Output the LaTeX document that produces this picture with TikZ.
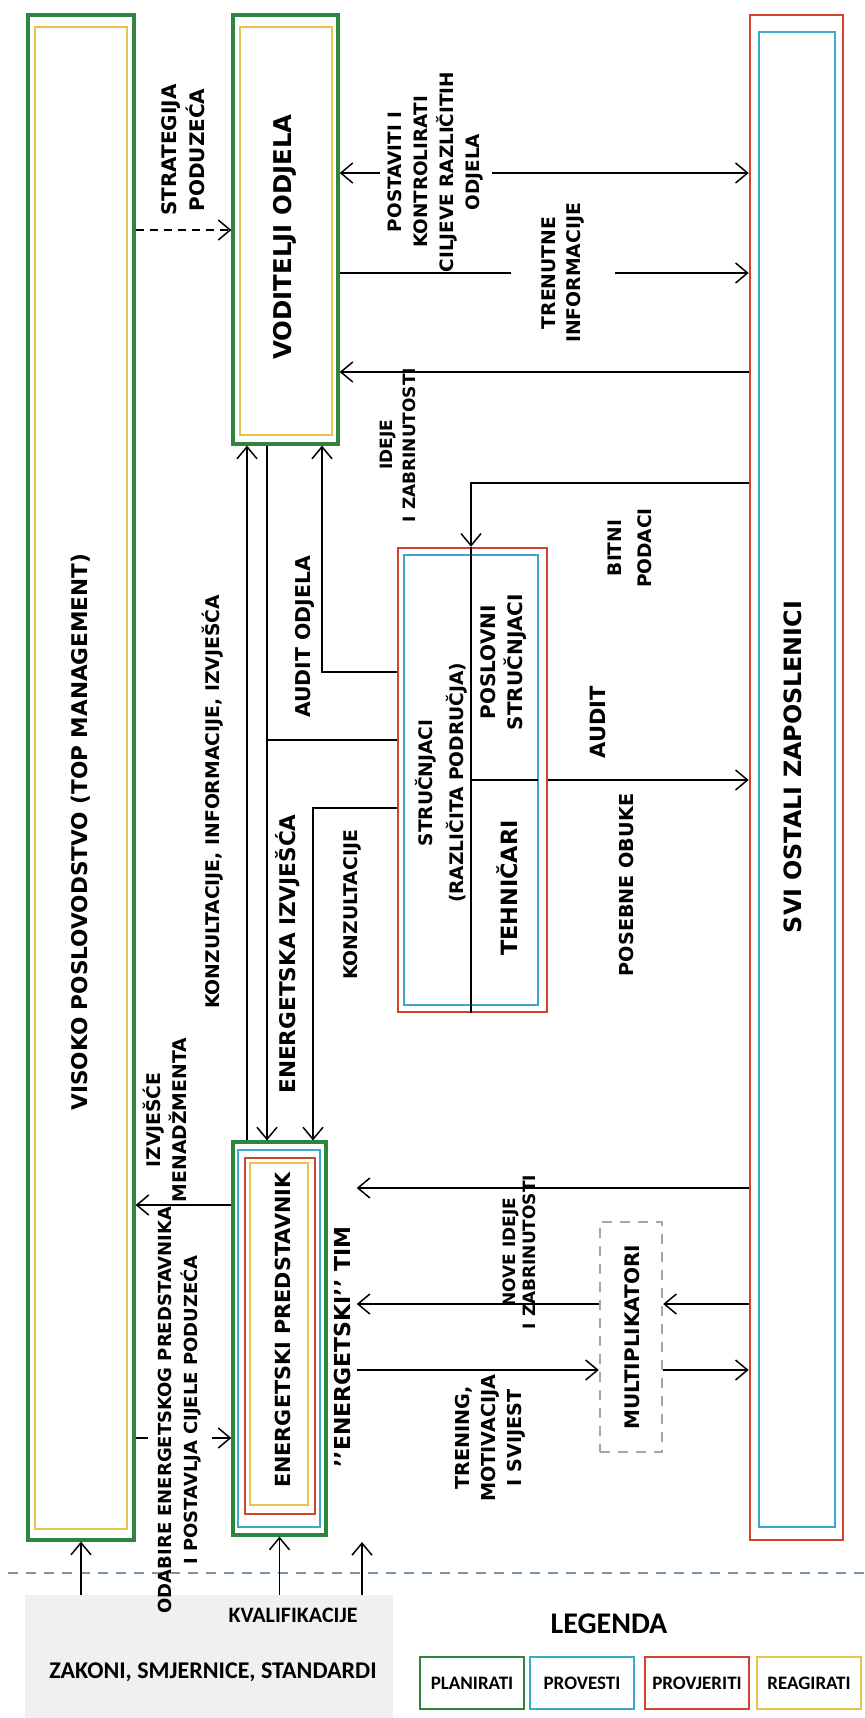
\documentclass[tikz,border=0pt]{standalone}
\usepackage{fontspec}
\setmainfont{DejaVu Sans}
\newfontfamily\legendfont{Carlito}
\usepackage{xcolor}
\usepackage{tikz}
\usetikzlibrary{arrows.meta,fit,calc}

\definecolor{plangreen}{RGB}{46,133,62}
\definecolor{docyan}{RGB}{62,168,200}
\definecolor{checkred}{RGB}{208,66,46}
\definecolor{actyellow}{RGB}{232,196,78}
\definecolor{multigray}{RGB}{165,165,165}
\definecolor{splitblue}{RGB}{115,150,172}
\definecolor{lawgray}{RGB}{239,240,242}

\newcommand{\lblfont}[2]{\bfseries\fontsize{#1}{#2}\selectfont}

\tikzset{
    grnframe/.style={draw=plangreen, line width=1.6pt, inner sep=0pt},
    redframe/.style={draw=checkred, line width=1.3pt, inner sep=0pt},
    cyanframe/.style={draw=docyan, line width=1.2pt},
    ylwframe/.style={draw=actyellow, line width=1.1pt},
    lbl/.style 2 args={rotate=90, align=center, font=\lblfont{#1}{#2}},
    conn/.style={line width=0.75pt},
    arr/.style={conn, ->},
    legbox/.style={line width=1.4pt, minimum width=52pt, minimum height=26pt, font=\legendfont\bfseries\fontsize{9.5}{11}\selectfont}
}

\begin{document}
\begin{tikzpicture}[x=0.5pt, y=-0.5pt, >={Straight Barb[length=6pt,width=10pt]}]
    \useasboundingbox (0,0) rectangle (864,1718);
    \fill[white] (0,0) rectangle (864,1718);

    % Laws, standards
    \node[fill=lawgray, inner sep=0pt, fit={(25,1595) (393,1718)}] (zakoni) {};
    \node[font=\legendfont\bfseries\fontsize{12}{14}\selectfont] (zaktxt) at (213,1672) {ZAKONI, SMJERNICE, STANDARDI};
    \node[font=\legendfont\bfseries\fontsize{11}{13}\selectfont] (kval) at (293,1615) {KVALIFIKACIJE};
    \draw[splitblue, line width=1.2pt, dash pattern=on 5pt off 4pt] (8,1573) -- (864,1573);

    % Top management
    \node[grnframe, fit={(28,15) (134,1540)}] (topmgmt) {};
    \draw[ylwframe] (35,27) rectangle (127,1529);
    \node[lbl={10.8}{13}] (toptxt) at (81,832) {VISOKO POSLOVODSTVO (TOP MANAGEMENT)};

    % Department heads
    \node[grnframe, fit={(233,15) (338,444)}] (vodit) {};
    \draw[ylwframe] (240,27) rectangle (332,435);
    \node[lbl={12.2}{15}] (vodtxt) at (285,237) {VODITELJI ODJELA};

    % All other employees
    \node[redframe, fit={(750,15) (843,1540)}] (svi) {};
    \draw[cyanframe] (759,32) rectangle (835,1527);
    \node[lbl={11.9}{15}] (svitxt) at (793,767) {SVI OSTALI ZAPOSLENICI};

    % Experts
    \node[redframe, fit={(398,548) (547,1012)}] (struc) {};
    \draw[cyanframe] (404,555) rectangle (538,1005);
    \draw[conn] (struc.north -| 471,0) -- (struc.south -| 471,0);
    \draw[conn] (471,780) -- (538,780);
    \node[lbl={9.3}{15.5}] (structxt) at (441,783) {STRUČNJACI\\(RAZLIČITA PODRUČJA)};
    \node[lbl={10}{13.5}] (poslovni) at (504,662) {POSLOVNI\\STRUČNJACI};
    \node[lbl={11.2}{13}] (tehn) at (507,888) {TEHNIČARI};

    % Energy representative
    \node[grnframe, fit={(233,1142) (326,1535)}] (energ) {};
    \draw[cyanframe] (238,1150) rectangle (320,1527);
    \draw[redframe] (245,1158) rectangle (315,1514);
    \draw[ylwframe] (250,1163) rectangle (308,1505);
    \node[lbl={10.4}{13}] (energtxt) at (283,1330) {ENERGETSKI PREDSTAVNIK};
    \node[lbl={11}{13}, inner ysep=3pt] (tim) at (342,1347) {'{}'ENERGETSKI'{}' TIM};

    % Multipliers
    \node[draw=multigray, line width=1.2pt, dash pattern=on 5pt off 4pt, inner sep=0pt, fit={(600,1222) (662,1452)}] (multi) {};
    \node[lbl={10}{13}] (multitxt) at (632,1337) {MULTIPLIKATORI};

    % Top management - department heads
    \draw[arr, dash pattern=on 4pt off 3pt] (topmgmt.east |- 0,230) -- (vodit.west |- 0,230);
    \node[lbl={10}{14}] (strat) at (183,150) {STRATEGIJA\\PODUZEĆA};

    % Department heads - employees
    \node[lbl={9.2}{13}, inner sep=4pt] (ciljevi) at (436,172) {POSTAVITI I\\KONTROLIRATI\\CILJEVE RAZLIČITIH\\ODJELA};
    \draw[arr] (ciljevi.north |- 0,173) -- (vodit.east |- 0,173);
    \draw[arr] (ciljevi.south |- 0,173) -- (svi.west |- 0,173);
    \node[lbl={9.4}{12.5}, inner xsep=4pt, inner ysep=15pt] (trenut) at (563,273) {TRENUTNE\\INFORMACIJE};
    \draw[conn] (vodit.east |- 0,273) -- (trenut.north |- 0,273);
    \draw[arr] (trenut.south |- 0,273) -- (svi.west |- 0,273);
    \draw[arr] (svi.west |- 0,372) -- (vodit.east |- 0,372);
    \node[lbl={8.5}{11.5}] (ideje) at (398,445) {IDEJE\\I ZABRINUTOSTI};

    % Employees - experts
    \draw[arr] (svi.west |- 0,483) -| (struc.north -| 471,0);
    \node[lbl={9.3}{15}] (bitni) at (630,548) {BITNI\\PODACI};
    \draw[arr] (struc.east |- 0,780) -- (svi.west |- 0,780);
    \node[lbl={10.5}{13}] (audit) at (598,722) {AUDIT};
    \node[lbl={9.6}{13}] (obuke) at (627,885) {POSEBNE OBUKE};

    % Experts - department heads and energy representative
    \draw[arr] (struc.west |- 0,672) -| (vodit.south -| 322,0);
    \node[lbl={10.2}{13}] (auditodj) at (305,637) {AUDIT ODJELA};
    \coordinate (izvj) at (267,740);
    \draw[arr] (vodit.south -| izvj) -- (energ.north -| izvj);
    \draw[conn] (struc.west |- izvj) -- (izvj);
    \node[lbl={10.8}{13}] (energizv) at (288,954) {ENERGETSKA IZVJEŠĆA};
    \draw[arr] (struc.west |- 0,808) -| (energ.north -| 313,0);
    \node[lbl={9.4}{13}] (konz) at (352,905) {KONZULTACIJE};
    \draw[arr] (energ.north -| 247,0) -- (vodit.south -| 247,0);
    \node[lbl={9.4}{13}] (konzinf) at (213,802) {KONZULTACIJE, INFORMACIJE, IZVJEŠĆA};

    % Energy representative - top management
    \draw[arr] (energ.west |- 0,1205) -- (topmgmt.east |- 0,1205);
    \node[lbl={9.4}{13}] (izvjmen) at (165,1120) {IZVJEŠĆE\\MENADŽMENTA};
    \node[lbl={9}{13}, inner xsep=0pt, inner ysep=5pt] (odabire) at (180,1410) {ODABIRE ENERGETSKOG PREDSTAVNIKA\\I POSTAVLJA CIJELE PODUZEĆA};
    \draw[conn] (topmgmt.east |- 0,1438) -- (odabire.north |- 0,1438);
    \draw[arr] (odabire.south |- 0,1438) -- (energ.west |- 0,1438);

    % Team and multipliers
    \draw[arr] (svi.west |- 0,1188) -- (tim.south |- 0,1188);
    \draw[arr] (multi.west |- 0,1304) -- (tim.south |- 0,1304);
    \draw[arr] (svi.west |- 0,1304) -- (multi.east |- 0,1304);
    \draw[arr] (tim.south |- 0,1370) -- (multi.west |- 0,1370);
    \draw[arr] (multi.east |- 0,1370) -- (svi.west |- 0,1370);
    \node[lbl={8.5}{10}] (noveid) at (519,1252) {NOVE IDEJE\\I ZABRINUTOSTI};
    \node[lbl={9.6}{13}] (trening) at (490,1438) {TRENING,\\MOTIVACIJA\\I SVIJEST};

    % Inputs from below
    \coordinate (timin) at (362,1542);
    \draw[arr] (topmgmt.south |- zakoni.north) -- (topmgmt.south);
    \draw[arr] (energ.south |- zakoni.north) -- (energ.south);
    \draw[arr] (timin |- zakoni.north) -- (timin);

    % Legend
    \node[font=\legendfont\bfseries\fontsize{15}{17}\selectfont] (legenda) at (609,1624) {LEGENDA};
    \node[legbox, draw=plangreen] (plan) at (472,1683) {PLANIRATI};
    \node[legbox, draw=docyan] (provesti) at (582,1683) {PROVESTI};
    \node[legbox, draw=checkred] (provjera) at (697,1683) {PROVJERITI};
    \node[legbox, draw=actyellow] (reakcija) at (809,1683) {REAGIRATI};
\end{tikzpicture}
\end{document}
